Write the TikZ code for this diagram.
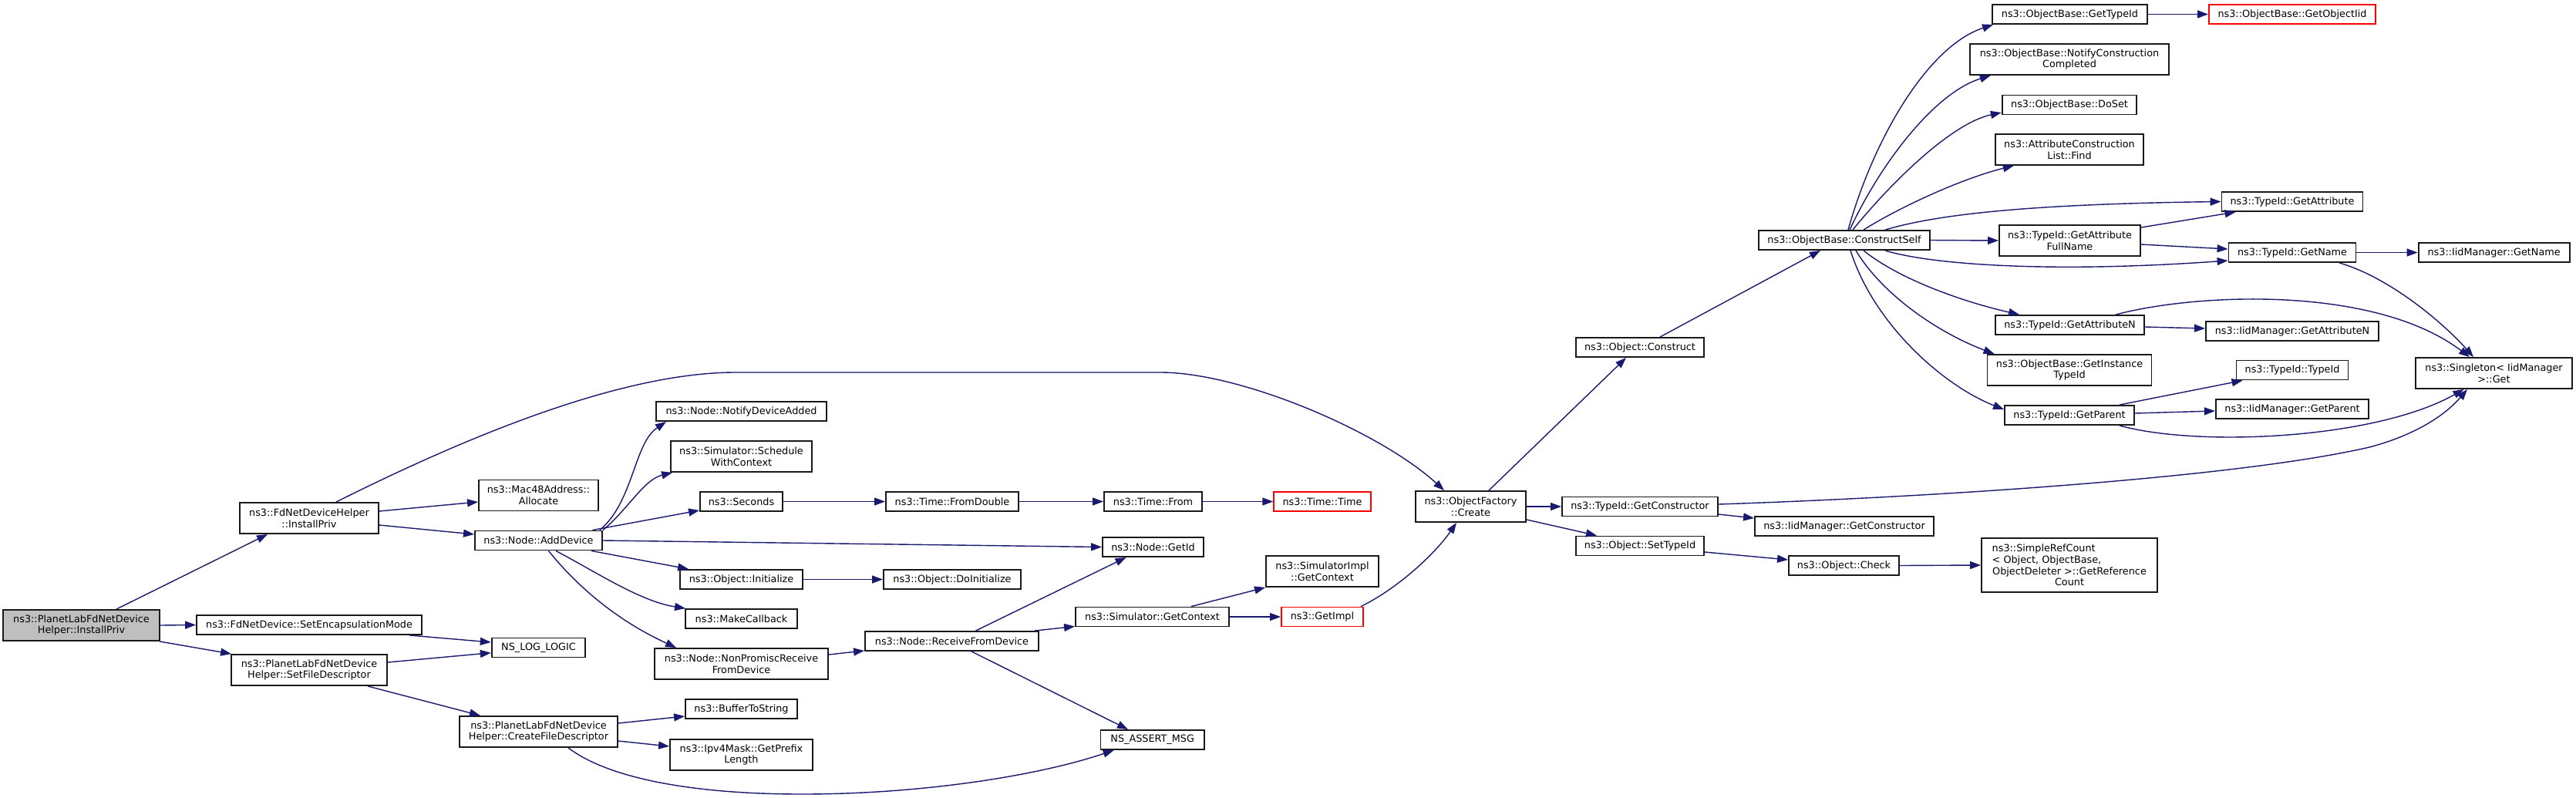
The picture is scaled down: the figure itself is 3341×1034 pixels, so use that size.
\documentclass[tikz,border=0pt]{standalone}
\usepackage{fontspec}
\setmainfont{DejaVu Sans}
\usetikzlibrary{arrows.meta}
\definecolor{edgeblue}{HTML}{191970}
\definecolor{rootgray}{HTML}{BFBFBF}
\begin{document}
\begin{tikzpicture}[x=1pt,y=-1pt,
  box/.style={draw=black!90, line width=1.9pt, fill=white, inner sep=0pt, font=\fontsize{12.8}{14.7}\selectfont, align=center},
  b1/.style={box, minimum width=#1pt, minimum height=25pt},
  b2/.style={box, minimum width=#1pt, minimum height=40pt},
  cl/.style={draw=edgeblue, line width=1.4pt, -{Triangle[length=14pt,width=10pt]}}]
\fill[white] (0,0) rectangle (3341,1034);
\useasboundingbox (0,0) rectangle (3341,1034);
% rank 0-2
\node[b2=203, fill=rootgray] (P) at (105.5,811) {ns3::PlanetLabFdNetDevice\\Helper::InstallPriv};
\node[b2=180] (FH) at (401,672) {ns3::FdNetDeviceHelper\\::InstallPriv};
\node[b1=292] (SEM) at (401,810.5) {ns3::FdNetDevice::SetEncapsulationMode};
\node[b2=202] (SFD) at (401,869) {ns3::PlanetLabFdNetDevice\\Helper::SetFileDescriptor};
\node[b2=155] (MAC) at (698.5,642.5) {ns3::Mac48Address::\\Allocate};
\node[b1=165] (AD) at (698.5,701) {ns3::Node::AddDevice};
\node[b1=121.5] (LOG) at (698.5,840) {NS\_LOG\_LOGIC};
\node[b2=205] (CFD) at (698.5,949) {ns3::PlanetLabFdNetDevice\\Helper::CreateFileDescriptor};
% rank 3
\node[b1=221] (NDA) at (961.5,533.5) {ns3::Node::NotifyDeviceAdded};
\node[b2=183] (SWC) at (961.5,592) {ns3::Simulator::Schedule\\WithContext};
\node[b1=107] (SEC) at (961.5,650.5) {ns3::Seconds};
\node[b1=159] (INI) at (961.5,751.5) {ns3::Object::Initialize};
\node[b1=145] (MCB) at (961.5,802.5) {ns3::MakeCallback};
\node[b2=225] (NPR) at (961.5,861) {ns3::Node::NonPromiscReceive\\FromDevice};
\node[b1=145] (BTS) at (961.5,919.5) {ns3::BufferToString};
\node[b2=185] (IPV) at (961.5,979) {ns3::Ipv4Mask::GetPrefix\\Length};
% rank 4
\node[b1=172] (FDB) at (1235,650.5) {ns3::Time::FromDouble};
\node[b1=178] (DOI) at (1235,751.5) {ns3::Object::DoInitialize};
\node[b1=225] (RFD) at (1234.5,831.5) {ns3::Node::ReceiveFromDevice};
% rank 5
\node[b1=127] (TFR) at (1495.5,650.5) {ns3::Time::From};
\node[b1=131] (GID) at (1495.5,709.5) {ns3::Node::GetId};
\node[b1=199] (SGC) at (1494.5,800) {ns3::Simulator::GetContext};
\node[b1=134.5] (AMSG) at (1494.7,959.5) {NS\_ASSERT\_MSG};
% rank 6
\node[b1=125.5, draw=red] (TTM) at (1715,650.5) {ns3::Time::Time};
\node[b2=146] (SIGC) at (1715,741) {ns3::SimulatorImpl\\::GetContext};
\node[b1=106, draw=red] (GIM) at (1715,800) {ns3::GetImpl};
% rank 7
\node[b2=143] (OF) at (1907.5,657) {ns3::ObjectFactory\\::Create};
% rank 8
\node[b1=166] (OC) at (2127,450.5) {ns3::Object::Construct};
\node[b1=202] (GC) at (2127,657) {ns3::TypeId::GetConstructor};
\node[b1=166] (STI) at (2127,708) {ns3::Object::SetTypeId};
% rank 9
\node[b1=222] (CS) at (2392,311.5) {ns3::ObjectBase::ConstructSelf};
\node[b1=232] (IGC) at (2392,682.5) {ns3::IidManager::GetConstructor};
\node[b1=143] (OCK) at (2391.5,733.5) {ns3::Object::Check};
% rank 10
\node[b1=201] (GTI) at (2684.5,18.5) {ns3::ObjectBase::GetTypeId};
\node[b2=257.5] (NCC) at (2684,77) {ns3::ObjectBase::NotifyConstruction\\Completed};
\node[b1=174.5] (DST) at (2684,136) {ns3::ObjectBase::DoSet};
\node[b2=192.6] (ACL) at (2684,194) {ns3::AttributeConstruction\\List::Find};
\node[b2=183] (GAF) at (2684.5,312) {ns3::TypeId::GetAttribute\\FullName};
\node[b1=193] (GAN) at (2684.5,421.5) {ns3::TypeId::GetAttributeN};
\node[b2=213] (GITI) at (2684,480) {ns3::ObjectBase::GetInstance\\TypeId};
\node[b1=168] (TGP) at (2684,538.5) {ns3::TypeId::GetParent};
\node[box, minimum width=228pt, minimum height=70pt] (SRC) at (2684,733) {\makebox[200.6pt][l]{ns3::SimpleRefCount}\\\makebox[200.6pt][l]{< Object, ObjectBase,}\\ObjectDeleter >::GetReference\\Count};
% rank 11
\node[b1=216, draw=red] (GOI) at (2973,18.5) {ns3::ObjectBase::GetObjectIid};
\node[b1=183] (GA) at (2973,261.5) {ns3::TypeId::GetAttribute};
\node[b1=165] (GN) at (2973,327.5) {ns3::TypeId::GetName};
\node[b1=224] (IGAN) at (2973,429.5) {ns3::IidManager::GetAttributeN};
\node[b1=145] (TTI) at (2973,480) {ns3::TypeId::TypeId};
\node[b1=198.4] (IGP) at (2973,530.5) {ns3::IidManager::GetParent};
% rank 12
\node[b1=196] (IGN) at (3234.6,327.5) {ns3::IidManager::GetName};
\node[b2=203] (SGL) at (3234.5,484) {ns3::Singleton< IidManager\\>::Get};

% edges
\draw[cl] ([xshift=45.5pt]P.north) -- ([xshift=-54pt]FH.south);
\draw[cl] (P.east) -- (SEM.west);
\draw[cl] ([xshift=-1pt]P.south east) -- ([xshift=1pt]SFD.north west);
\draw[cl] ([xshift=35pt]FH.north) .. controls (636,551) and (820,483) .. (954,483) -- (1505,483) .. controls (1610,483) and (1790,560) .. ([xshift=-34.5pt]OF.north);
\draw[cl] ([yshift=9pt]FH.east) -- ([yshift=-8.5pt]MAC.west);
\draw[cl] ([yshift=-9pt]FH.east) -- ([yshift=8pt]AD.west);
\draw[cl] ([xshift=130pt]SEM.south) -- ([yshift=7pt]LOG.west);
\draw[cl] ([yshift=10pt]SFD.east) -- ([yshift=-6.7pt]LOG.west);
\draw[cl] ([xshift=76pt]SFD.south) -- ([xshift=-75.5pt]CFD.north);

\draw[cl] ([xshift=79.5pt]AD.north) .. controls (822,650) and (822,575) .. ([xshift=-97.5pt]NDA.south);
\draw[cl] (AD.north east) .. controls (815,660) and (835,622) .. ([xshift=3pt]SWC.south west);
\draw[cl] ([xshift=70pt]AD.north) -- ([yshift=2pt]SEC.south west);
\draw[cl] (AD.east) -- (GID.west);
\draw[cl] ([xshift=68.5pt]AD.south) -- ([xshift=12pt]INI.north west);
\draw[cl] ([xshift=22.5pt]AD.south) .. controls (770,740) and (830,780) .. ([xshift=1pt]MCB.north west);
\draw[cl] ([xshift=13pt]AD.south) .. controls (740,750) and (790,800) .. ([xshift=29pt]NPR.north west);

\draw[cl] (SEC.east) -- (FDB.west);
\draw[cl] (FDB.east) -- (TFR.west);
\draw[cl] (TFR.east) -- (TTM.west);
\draw[cl] (INI.east) -- (DOI.west);
\draw[cl] ([yshift=12pt]NPR.east) -- ([yshift=1pt]RFD.south west);
\draw[cl] ([xshift=31pt]RFD.north) -- ([xshift=-35pt]GID.south);
\draw[cl] ([xshift=-6pt]RFD.north east) -- ([yshift=1pt]SGC.south west);
\draw[cl] ([xshift=25.5pt]RFD.south) -- ([xshift=-31.7pt]AMSG.north);
\draw[cl] ([xshift=50.5pt]SGC.north) -- (SIGC.south west);
\draw[cl] (SGC.east) -- (GIM.west);
\draw[cl] ([xshift=-4pt]GIM.north east) .. controls (1810,765) and (1860,720) .. ([xshift=-18.5pt]OF.south);

\draw[cl] ([xshift=38.5pt]CFD.south) .. controls (790,1010) and (900,1030) .. (1040,1030) .. controls (1200,1030) and (1350,1005) .. ([xshift=-50pt]AMSG.south);
\draw[cl] ([yshift=11pt]CFD.east) -- ([yshift=-9.5pt]BTS.west);
\draw[cl] ([yshift=-12pt]CFD.east) -- ([yshift=11pt]IPV.west);

\draw[cl] ([xshift=23.5pt]OF.north) -- ([xshift=-18pt]OC.south);
\draw[cl] (OF.east) -- (GC.west);
\draw[cl] ([yshift=-17pt]OF.east) -- ([xshift=-56pt]STI.north);
\draw[cl] ([yshift=-10pt]GC.east) -- ([yshift=10.5pt]IGC.west);
\draw[cl] ([yshift=3pt]GC.east) .. controls (2500,645) and (2900,620) .. (3073,580) .. controls (3130,565) and (3170,540) .. ([xshift=-34.5pt]SGL.south);
\draw[cl] ([yshift=-8pt]STI.east) -- ([yshift=7.5pt]OCK.west);
\draw[cl] (OCK.east) -- (SRC.west);
\draw[cl] ([xshift=26pt]OC.north) -- ([xshift=-31pt]CS.south);
\draw[cl] (GTI.east) -- (GOI.west);

\draw[cl] ([xshift=5pt]CS.north) .. controls (2430,180) and (2500,60) .. ([xshift=2pt]GTI.south west);
\draw[cl] ([xshift=7pt]CS.north) .. controls (2440,210) and (2510,120) .. ([xshift=27.5pt]NCC.south west);
\draw[cl] ([xshift=11pt]CS.north) .. controls (2450,240) and (2530,160) .. ([yshift=-10pt]DST.west);
\draw[cl] ([xshift=25pt]CS.north) .. controls (2470,265) and (2550,230) .. ([xshift=25pt]ACL.south west);
\draw[cl] ([xshift=53pt]CS.north) .. controls (2500,282) and (2600,265) .. (GA.west);
\draw[cl] (CS.east) -- (GAF.west);
\draw[cl] ([xshift=53pt]CS.south) .. controls (2500,342) and (2650,355) .. ([yshift=-10.5pt]GN.west);
\draw[cl] ([xshift=25pt]CS.south) .. controls (2460,360) and (2540,390) .. ([xshift=32pt]GAN.north west);
\draw[cl] ([xshift=15pt]CS.south) .. controls (2440,380) and (2510,430) .. ([xshift=10pt]GITI.north west);
\draw[cl] ([xshift=8pt]CS.south) .. controls (2430,420) and (2520,500) .. ([yshift=7.5pt]TGP.west);

\draw[cl] ([yshift=17pt]GAF.east) -- ([xshift=19pt]GA.south west);
\draw[cl] ([yshift=-5pt]GAF.east) -- ([yshift=4.5pt]GN.west);
\draw[cl] (GN.east) -- (IGN.west);
\draw[cl] ([xshift=61pt]GN.south) .. controls (3100,360) and (3170,420) .. ([xshift=-26.5pt]SGL.north);
\draw[cl] ([yshift=-2.5pt]GAN.east) -- ([yshift=3.5pt]IGAN.west);
\draw[cl] ([xshift=59.5pt]GAN.north) .. controls (2850,380) and (3080,370) .. ([xshift=-31.5pt]SGL.north);
\draw[cl] ([xshift=65pt]TGP.north) -- ([xshift=9pt]TTI.south west);
\draw[cl] ([yshift=2.5pt]TGP.east) -- ([yshift=-2.5pt]IGP.west);
\draw[cl] ([xshift=65pt]TGP.south) .. controls (2850,580) and (3080,570) .. ([xshift=-39pt]SGL.south);
\end{tikzpicture}
\end{document}
